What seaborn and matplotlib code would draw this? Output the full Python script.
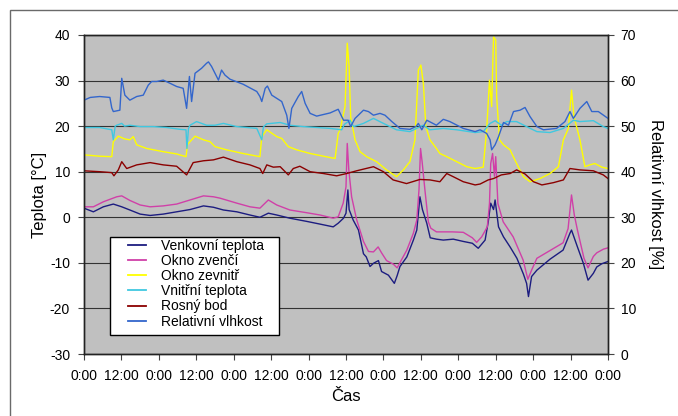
import matplotlib
matplotlib.use("Agg")
import matplotlib.pyplot as plt
import matplotlib.patches as patches
import seaborn as sns

# ----------------------------------------------------
# data (hours from start, °C / %)
# ----------------------------------------------------

h_venku = [0, 3, 6.2, 9.4, 12.1, 14.7, 18, 21.2, 25.4, 29.7, 34, 38.3, 41.5, 44.7, 49, 53.2,
           56.4, 59.1, 61.8, 66, 71.4, 75.7, 79.9, 81.5, 83.2, 84.0, 84.6, 85.0, 86.3, 88.0,
           89.6, 90.5, 91.7, 92.8, 94.4, 95.4, 97.6, 99.5, 100.4, 101.3, 103.5, 105.6, 106.7,
           107.7, 108.5, 109.9, 111, 113, 115.2, 118.4, 121.6, 124.5, 126.4, 128.6, 129.6,
           130.4, 131.3, 131.8, 132.9, 134.5, 136.6, 138.8, 140.9, 141.9, 142.5, 143.5, 145.2,
           149.4, 153.6, 155.8, 156.3, 158.2, 160.1, 161.6, 163.3, 164.4, 166, 168]
t_venku = [2.0, 1.2, 2.3, 2.9, 2.3, 1.6, 0.7, 0.4, 0.7, 1.2, 1.7, 2.5, 2.2, 1.6, 1.2, 0.5,
           0.0, 0.9, 0.5, -0.2, -0.9, -1.5, -2.1, -1.3, -0.2, 0.9, 6.0, 1.7, -0.6, -2.8,
           -8.0, -8.7, -10.8, -10.1, -9.5, -11.9, -12.7, -14.5, -12.8, -10.8, -8.7, -5.0, -2.8,
           4.5, 1.7, -1.3, -4.5, -4.8, -5.0, -4.8, -5.3, -5.7, -6.8, -5.0, -1.0,
           3.1, 1.7, 3.8, -2.1, -4.3, -6.5, -9.0, -12.5, -14.5, -17.4, -13.0, -11.6,
           -9.2, -7.2, -3.5, -2.8, -6.5, -10.1, -13.8, -12.3, -10.9, -10.2, -9.7]

h_zvenci = [0, 3, 6.2, 10.5, 12.1, 14.7, 18, 21.2, 25.4, 29.7, 34, 38.3, 41.5, 43.6, 49, 53.2,
            56.4, 59.1, 61.8, 66, 71.4, 75.7, 79.9, 81.5, 83.1, 84.0, 84.4, 84.9, 85.8, 87.4,
            89.6, 91.2, 92.8, 94.3, 95.4, 97, 99.2, 100.4, 101.5, 103.5, 105.6, 106.7, 107.4,
            107.9, 108.4, 109.3, 110.4, 111.2, 113, 118, 121.6, 124.5, 125.9, 127.5, 129.3,
            130.0, 130.4, 131.0, 131.6, 132.0, 132.7, 134.4, 137.6, 140.8, 142.3, 143.5, 145.2,
            149.4, 153.6, 155.2, 156.3, 157.2, 158.2, 160.3, 161.6, 163.3, 164.4, 166.5, 168]
t_zvenci = [2.3, 2.3, 3.4, 4.5, 4.7, 3.7, 2.7, 2.3, 2.5, 2.9, 3.8, 4.7, 4.5, 4.2, 3.1, 2.3,
            2.0, 3.8, 2.7, 1.6, 1.0, 0.5, -0.2, 0.1, 3.1, 6.7, 16.2, 10.4, 4.5, -0.5,
            -5.3, -7.5, -7.6, -6.5, -7.8, -9.5, -10.3, -11.1, -9.7, -7.2, -3.5, -0.6, 6.0,
            15.1, 12.2, 6.0, -1.0, -2.4, -3.2, -3.2, -3.3, -4.5, -5.5, -4.3, -2.1,
            3.0, 11.8, 14.0, 9.0, 13.3, 3.0, -1.0, -4.3, -9.4, -13.6, -11.6, -9.0,
            -7.3, -5.6, -2.5, 4.9, 0.5, -2.8, -9.0, -11.1, -8.6, -7.8, -7.0, -6.7]

h_zevnitr = [0, 5.1, 8.9, 9.4, 11, 13, 14.7, 15.8, 16.9, 20.1, 25.4, 29.7, 32.7, 33.2, 35.6,
             38.3, 40.4, 42, 45.7, 51, 56.4, 57.0, 58.6, 61.8, 63.4, 65.5, 68.2, 72.5, 76.8,
             80.5, 81.5, 82.1, 83.7, 84.4, 85.0, 85.5, 86.9, 88.5, 90.6, 93.8, 97, 100.2, 102.4,
             104.5, 106.1, 107.2, 108, 108.8, 109.6, 110.9, 113, 114.1, 116.3, 119.5, 122.7,
             125.4, 128, 129.1, 130, 130.7, 131.3, 132, 132.3, 133.2, 134.5, 136.6, 138.7,
             140.9, 143, 146.2, 149.4, 152.1, 153.7, 155.3, 156.3, 157.1, 159, 160.6, 162.2,
             163.8, 166, 168]
t_zevnitr = [13.7, 13.4, 13.3, 16.6, 17.8, 17.2, 17.0, 17.7, 15.9, 15.1, 14.4, 13.9, 13.3, 16.0, 17.8,
             17.0, 16.6, 15.5, 14.8, 14.0, 13.3, 17.7, 19.2, 17.7, 17.3, 15.5, 14.8, 14.0, 13.4,
             12.9, 18.4, 19.2, 24.3, 38.2, 33.0, 22.0, 17.0, 14.4, 13.3, 12.2, 10.4, 8.9, 10.4,
             12.2, 17.0, 32.3, 33.4, 29.4, 19.9, 17.0, 15.1, 14.0, 13.3, 12.2, 11.1,
             10.7, 11.0, 19.2, 30.1, 24.3, 39.6, 38.9, 26.5, 17.0, 15.9, 14.8, 11.8,
             8.9, 7.8, 8.5, 9.6, 11.1, 17.0, 19.5, 27.9, 22.1, 17.0, 11.1, 11.5,
             11.8, 11.0, 10.7]

h_vnitrni = [0, 5, 8.9, 9.4, 10.0, 10.5, 12.1, 13, 14.7, 18, 22.2, 26.5, 30.8, 32.7, 33.0, 33.5,
             34, 36.1, 39.3, 42, 44.7, 49, 55.4, 57, 57.5, 58.6, 62.9, 66, 70.3, 74.6, 78.9,
             82.6, 83.5, 85.3, 86.4, 89.6, 92.8, 96, 100.2, 104.5, 106.6, 108.7, 110.9, 115.2,
             119.5, 125.4, 128, 130.2, 131.8, 133.8, 135.5, 138.7, 141.9, 145.2, 149.4, 153.7,
             156.9, 159, 163.3, 166.5, 168]
t_vnitrni = [19.7, 19.7, 19.2, 17.0, 20.0, 20.2, 20.6, 20.0, 20.2, 19.9, 19.9, 19.7, 19.3, 19.2, 15.1, 19.5,
             20.2, 21.0, 20.2, 20.2, 20.6, 19.9, 19.5, 17.0, 19.8, 20.5, 20.8, 20.2, 19.9, 19.7, 19.5,
             19.2, 20.4, 21.3, 19.9, 20.6, 21.7, 20.6, 19.2, 18.8, 19.5, 20.2, 19.2, 19.5,
             19.2, 18.6, 18.8, 20.6, 21.2, 20.2, 21.0, 21.0, 19.9, 18.8, 18.6, 19.5,
             21.3, 21.0, 21.2, 19.9, 19.5]

h_rosny = [0, 5.1, 8.9, 9.6, 11, 12.1, 13.7, 16.9, 21.2, 25.4, 29.7, 32.9, 35, 38.3, 41.5, 44.7,
           49, 53.2, 56.4, 57.3, 58.6, 60.7, 62.9, 65.5, 67.1, 69.2, 72.5, 76.8, 81, 84.2, 87.4,
           92.8, 96, 99.1, 103.4, 107.7, 110.9, 114.1, 116.3, 118.4, 121.6, 125.4, 127, 129.6,
           131.3, 133.8, 136.6, 138.7, 141.4, 144.1, 146.8, 150.5, 153.7, 155.8, 159, 163.3,
           166.5, 168]
t_rosny = [10.2, 10.0, 9.8, 9.1, 10.4, 12.2, 10.7, 11.5, 12.0, 11.5, 11.2, 9.3, 12.0, 12.4, 12.6, 13.2,
           12.2, 11.5, 10.7, 9.6, 11.5, 11.0, 11.1, 9.3, 10.7, 11.2, 10.0, 9.6, 9.1, 9.6, 10.2,
           11.1, 10.0, 8.2, 7.4, 8.3, 8.2, 7.8, 9.6, 8.9, 7.8, 7.1, 7.3, 8.2,
           8.5, 9.3, 9.6, 10.4, 9.5, 7.8, 7.1, 7.6, 8.2, 10.7, 10.4, 10.2,
           9.3, 8.5]

h_vlhkost = [0, 2, 5, 8.3, 8.9, 9.4, 11.5, 12.1, 13.1, 14.7, 16.9, 19, 20.6, 21.7, 23.3, 25.4,
             27.6, 29.7, 31.8, 32.9, 33.8, 34.5, 35.6, 37.7, 39.3, 39.9, 40.9, 42, 43.1, 44.1,
             45.2, 46.8, 51, 55.4, 56.4, 57, 58.1, 58.8, 60.2, 61.8, 63.4, 65, 65.7, 66.6, 68.7,
             69.8, 70.9, 72.5, 74.6, 78.9, 81.5, 83.2, 84.7, 85.5, 86.9, 89.6, 91.2, 92.8, 94.9,
             96.5, 98.7, 101.3, 104.5, 106.4, 107.2, 108.3, 109.9, 113, 115.2, 117.3, 121.6,
             125.4, 127, 129.1, 130.2, 130.7, 131.8, 132.9, 134.5, 136.1, 137.7, 139.8, 141.4,
             143, 145.2, 147.3, 151.5, 154.2, 155.8, 156.9, 159, 161.2, 162.8, 164.9, 168]
rh_vlhkost = [55.7, 56.3, 56.5, 56.3, 54.0, 53.2, 53.5, 60.5, 56.8, 55.7, 56.5, 56.8, 59.0, 59.8, 59.8, 60.1,
              59.4, 58.7, 58.3, 53.9, 60.9, 55.4, 61.6, 62.7, 63.8, 64.1, 63.1, 61.6, 60.1, 62.3,
              61.2, 60.3, 59.2, 57.6, 56.5, 55.4, 58.3, 58.8, 56.8, 56.1, 55.4, 52.4, 49.5, 53.9, 56.5,
              57.6, 55.0, 52.8, 52.2, 52.9, 53.7, 51.3, 51.3, 49.9, 51.7, 53.5, 53.2, 52.4, 52.8,
              52.4, 51.0, 49.5, 49.3, 49.9, 50.6, 49.2, 51.3, 50.2, 51.5, 51.0, 49.5,
              48.8, 49.2, 48.4, 47.0, 44.8, 45.9, 47.7, 50.8, 50.2, 53.2, 53.5, 54.1,
              52.1, 49.9, 49.2, 49.5, 51.0, 53.2, 51.7, 53.9, 55.4, 53.2, 53.2, 51.7]

x_ticks = list(range(0, 169, 12))
x_labels = ["0:00", "12:00"] * 7 + ["0:00"]

# ----------------------------------------------------
# chart
# ----------------------------------------------------

plt.rcParams['font.family'] = ['Liberation Sans', 'DejaVu Sans']
plt.rcParams['axes.unicode_minus'] = False

fig = plt.figure(figsize=(6.78, 4.16), dpi=100)
ax = fig.add_axes([84/678, 1 - 354/416, 524/678, 319/416])
ax.set_facecolor('#C0C0C0')

# chart area border (top / left only visible)
fig.patches.append(patches.Rectangle((10/678, -0.1), 1.2, (406/416) + 0.1, transform=fig.transFigure,
                                     fill=False, edgecolor='#6a6a6a', lw=1.0))

series = [
    (h_venku, t_venku, 'Venkovní teplota', '#1c1c80'),
    (h_zvenci, t_zvenci, 'Okno zvenčí', '#d040a8'),
    (h_zevnitr, t_zevnitr, 'Okno zevnitř', '#ffff00'),
    (h_vnitrni, t_vnitrni, 'Vnitřní teplota', '#40c8e0'),
    (h_rosny, t_rosny, 'Rosný bod', '#8b0000'),
]
for hh, vv, lab, col in series:
    sns.lineplot(x=hh, y=vv, ax=ax, color=col, lw=1.0, label=lab, estimator=None, sort=False)

ax2 = ax.twinx()
sns.lineplot(x=h_vlhkost, y=rh_vlhkost, ax=ax2, color='#3366cc', lw=1.0,
             label='Relativní vlhkost', estimator=None, sort=False)

ax.set_xlim(0, 168)
ax.set_ylim(-30, 40)
ax2.set_ylim(0, 70)
ax.set_yticks(range(-30, 41, 10))
ax2.set_yticks(range(0, 71, 10))
ax.set_xticks(x_ticks)
ax.set_xticklabels(x_labels)

ax.yaxis.grid(True, color='#333333', lw=0.8)
ax.set_axisbelow(True)

for a in (ax, ax2):
    for s in a.spines.values():
        s.set_color('#222222')
        s.set_linewidth(1.0)
ax.tick_params(axis='y', direction='out', length=4, pad=6, labelsize=10, color='#444444')
ax.tick_params(axis='x', direction='out', length=4, pad=7, labelsize=10, color='#444444')
ax2.tick_params(axis='y', direction='out', length=4, pad=5, labelsize=10, color='#444444')

ax.set_ylabel('Teplota [°C]', fontsize=12)
ax.yaxis.set_label_coords(-0.071, 0.5)
ax2.set_ylabel('Relativní vlhkost [%]', fontsize=12, rotation=270, va='bottom')
ax2.yaxis.set_label_coords(1.076, 0.5)
ax.set_xlabel('Čas', fontsize=12)
ax.xaxis.set_label_coords(0.5, -0.11)

# legend: white box drawn separately, entries without frame
h1, l1 = ax.get_legend_handles_labels()
h2, l2 = ax2.get_legend_handles_labels()
ax.get_legend().remove()
ax2.get_legend().remove()
ax2.add_patch(patches.Rectangle((26/524, 19/319), 169/524, 98/319, transform=ax2.transAxes,
                                facecolor='white', edgecolor='black', lw=1.0, zorder=5))
leg = ax2.legend(h1 + h2, l1 + l2, loc='upper left', bbox_to_anchor=(44/524, 115/319),
                 fontsize=10, frameon=False, handlelength=1.3, handletextpad=1.1,
                 labelspacing=0.08, borderpad=0, borderaxespad=0)
leg.set_zorder(6)
for ln in leg.get_lines():
    ln.set_linewidth(1.3)

fig.savefig('out.png', dpi=100)
